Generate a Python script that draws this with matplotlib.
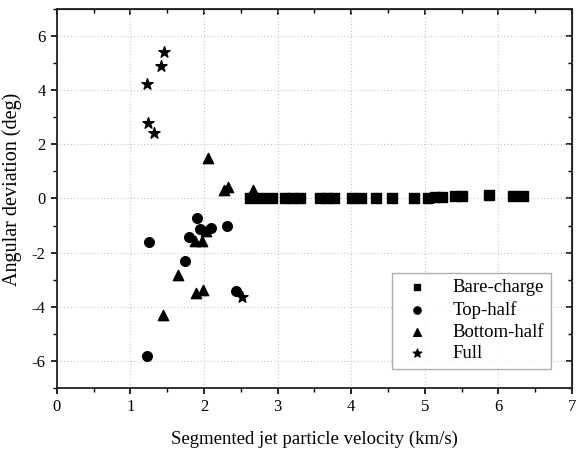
import numpy as np
import matplotlib.pyplot as plt
from matplotlib.ticker import MultipleLocator

# Bare-charge
bare_v = [2.62, 2.77, 2.92, 3.10, 3.20, 3.30, 3.57, 3.67, 3.77, 4.01, 4.13,
          4.34, 4.55, 4.86, 5.04, 5.14, 5.24, 5.41, 5.51, 5.87, 6.20, 6.33]
bare_d = [0.0, 0.0, 0.0, 0.0, 0.0, 0.0, 0.0, 0.0, 0.0, 0.0, 0.0,
          0.0, 0.0, 0.02, 0.03, 0.04, 0.05, 0.08, 0.08, 0.12, 0.10, 0.10]

# Top-half
top_v = [1.22, 1.25, 1.74, 1.80, 1.91, 1.95, 2.09, 2.31, 2.43]
top_d = [-5.81, -1.62, -2.32, -1.43, -0.73, -1.12, -1.10, -1.01, -3.41]

# Bottom-half
bottom_v = [1.44, 1.64, 1.88, 1.89, 1.97, 1.99, 2.03, 2.06, 2.27, 2.32, 2.67]
bottom_d = [-4.31, -2.81, -1.58, -3.50, -1.58, -3.38, -1.20, 1.51, 0.32, 0.42, 0.30]

# Full
full_v = [1.22, 1.24, 1.32, 1.41, 1.46, 2.52]
full_d = [4.22, 2.77, 2.43, 4.89, 5.42, -3.63]

plt.rcParams['font.family'] = ['Liberation Serif', 'DejaVu Serif']
plt.rcParams['axes.unicode_minus'] = False

fig = plt.figure(figsize=(5.86, 4.5), dpi=100)
ax = fig.add_axes([0.097, 0.138, 0.879, 0.842])

ax.scatter(bare_v, bare_d, marker='s', s=42, color='black', label='Bare-charge', zorder=3)
ax.scatter(top_v, top_d, marker='o', s=48, color='black', label='Top-half', zorder=3)
ax.scatter(bottom_v, bottom_d, marker='^', s=55, color='black', label='Bottom-half', zorder=3)
ax.scatter(full_v, full_d, marker='*', s=70, color='black', label='Full', zorder=3)

ax.set_xlim(0, 7)
ax.set_ylim(-7, 7)
ax.xaxis.set_major_locator(MultipleLocator(1))
ax.xaxis.set_minor_locator(MultipleLocator(0.5))
ax.yaxis.set_major_locator(MultipleLocator(2))
ax.yaxis.set_minor_locator(MultipleLocator(1))
ax.grid(True, which='major', color='#c4c4c4', linestyle=(0, (1, 2)), linewidth=0.8)
ax.set_axisbelow(True)

for sp in ax.spines.values():
    sp.set_linewidth(1.3)
    sp.set_color('#222222')

ax.tick_params(which='major', direction='out', length=4.5, width=1.2, labelsize=12)
ax.tick_params(which='minor', direction='out', length=3, width=1.0)

# inward ticks on top and right
top = ax.secondary_xaxis('top')
top.xaxis.set_major_locator(MultipleLocator(1))
top.xaxis.set_minor_locator(MultipleLocator(0.5))
top.tick_params(which='major', direction='in', length=4.5, width=1.2, labeltop=False)
top.tick_params(which='minor', direction='in', length=3, width=1.0)
right = ax.secondary_yaxis('right')
right.yaxis.set_major_locator(MultipleLocator(2))
right.yaxis.set_minor_locator(MultipleLocator(1))
right.tick_params(which='major', direction='in', length=4.5, width=1.2, labelright=False)
right.tick_params(which='minor', direction='in', length=3, width=1.0)

ax.set_xlabel('Segmented jet particle velocity (km/s)', fontsize=13.5, labelpad=11)
ax.set_ylabel('Angular deviation (deg)', fontsize=14.5, labelpad=4)
ax.yaxis.set_label_coords(-0.068, 0.525)

leg = ax.legend(loc='lower right', bbox_to_anchor=(0.959, 0.05), borderaxespad=0,
                fontsize=13.5, frameon=True, fancybox=False, edgecolor='#999999',
                handletextpad=0.9, borderpad=0.35, labelspacing=0.25,
                markerscale=0.75)
leg.get_frame().set_linewidth(1.0)

fig.savefig('out.png', dpi=100)
